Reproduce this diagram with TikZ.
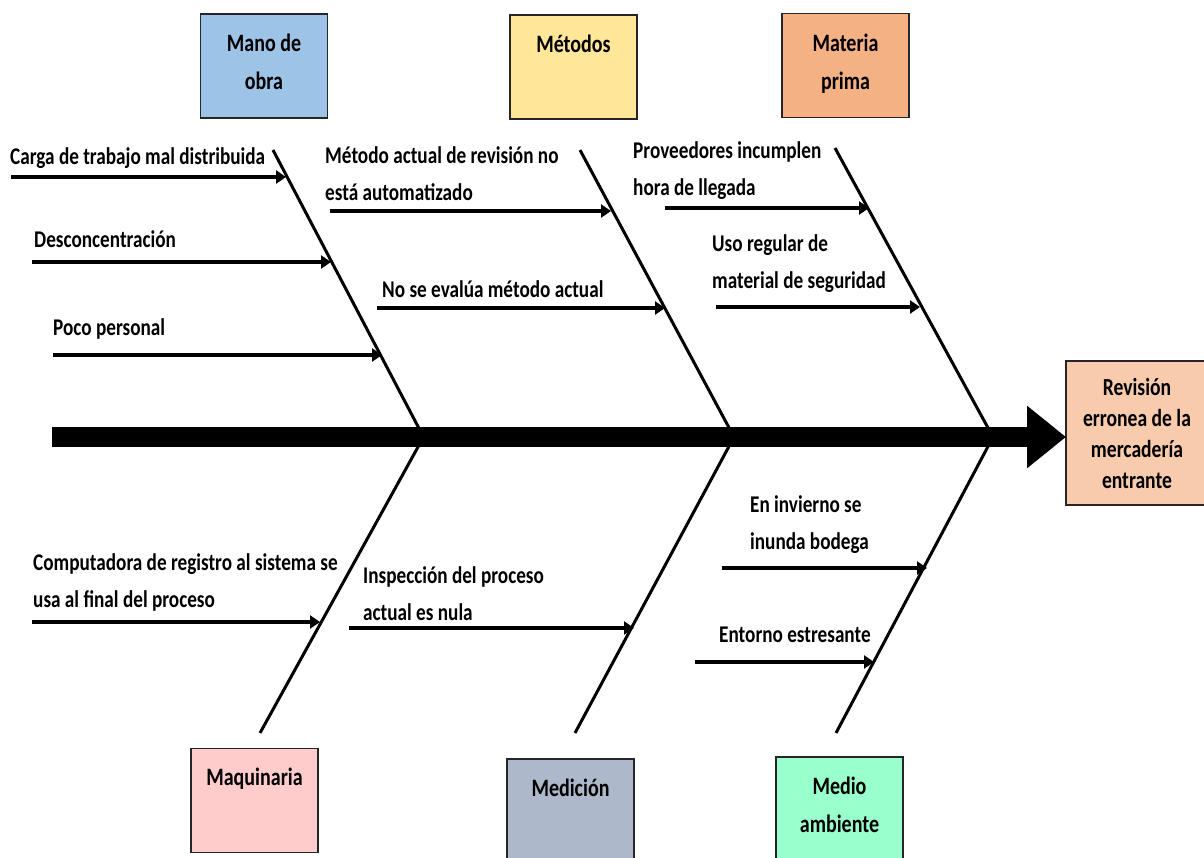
\documentclass[tikz,border=0pt]{standalone}
\usepackage{fontspec}
\setmainfont{Carlito}[FakeStretch=0.8]
\usetikzlibrary{arrows.meta,calc}

\definecolor{manoC}{HTML}{9DC3E6}
\definecolor{metodoC}{HTML}{FFE699}
\definecolor{materiaC}{HTML}{F4B183}
\definecolor{efectoC}{HTML}{F8CBAD}
\definecolor{maquinaC}{HTML}{FFCCCC}
\definecolor{medicionC}{HTML}{ADB9CA}
\definecolor{medioC}{HTML}{99FFCC}
\definecolor{borde}{HTML}{262626}

\newcommand\catfont{\bfseries\fontsize{25}{38}\selectfont}
\newcommand\causefont{\bfseries\fontsize{24}{37}\selectfont}
\newcommand\efectofont{\bfseries\fontsize{24.5}{31}\selectfont}

\tikzset{
  catbox/.style={draw=borde, line width=1.5pt, minimum width=127pt,
    minimum height=104pt, inner sep=0pt},
  cattext/.style={anchor=base, inner sep=0pt, align=center, font=\catfont},
  efectobox/.style={draw=borde, line width=1.5pt, fill=efectoC, minimum width=142pt,
    minimum height=144pt, inner sep=0pt, align=center, font=\efectofont},
  cause/.style={anchor=base west, inner sep=0pt, align=left, font=\causefont},
  bone/.style={line width=3pt},
  causearrow/.style={line width=4pt, -{Triangle[length=10pt,width=13pt]}},
  spine/.style={line width=20pt, -{Triangle[length=39pt,width=60pt]}},
}

\begin{document}
\begin{tikzpicture}[x=1pt,y=-1pt]
\clip (0,0) rectangle (1204,857);
\fill[white] (0,0) rectangle (1204,857);

% category boxes (the label baseline sits 38pt below the top edge per line)
\node[catbox, fill=manoC]     (mano)     at (264,66)     {};
\node[catbox, fill=metodoC]   (metodos)  at (573.5,67)   {};
\node[catbox, fill=materiaC]  (materia)  at (845.5,65.5) {};
\node[catbox, fill=maquinaC]  (maquina)  at (254.5,800.5){};
\node[catbox, fill=medicionC] (medicion) at (570.5,811)  {};
\node[catbox, fill=medioC]    (medio)    at (839.5,809)  {};

\node[cattext] (manoT)     at ($(mano.north)+(0,76)$)     {Mano de\\obra};
\node[cattext] (metodosT)  at ($(metodos.north)+(0,38)$)  {Métodos};
\node[cattext] (materiaT)  at ($(materia.north)+(0,77)$)  {Materia\\prima};
\node[cattext] (maquinaT)  at ($(maquina.north)+(0,38)$)  {Maquinaria};
\node[cattext] (medicionT) at ($(medicion.north)+(0,38)$) {Medición};
\node[cattext] (medioT)    at ($(medio.north)+(0,76)$)    {Medio\\ambiente};

\node[efectobox] (efecto) at (1137,433) {Revisión\\erronea de la\\mercadería\\entrante};

% bone end points
\coordinate (manoTop)  at (273,150);
\coordinate (manoJ)    at (423.5,437);
\coordinate (metTop)   at (580,150);
\coordinate (metJ)     at (734,437);
\coordinate (matTop)   at (835,148);
\coordinate (matJ)     at (993,437);
\coordinate (maqBot)   at (260,733);
\coordinate (medBot)   at (575,733);
\coordinate (ambBot)   at (836,733);
\coordinate (spineL)   at (52,437);
\coordinate (spineR)   at (1066,437);

% bones
\draw[bone] (manoTop) -- (manoJ) -- (maqBot);
\draw[bone] (metTop)  -- (metJ)  -- (medBot);
\draw[bone] (matTop)  -- (matJ)  -- (ambBot);

% spine
\draw[spine] (spineL) -- (spineR);

% cause arrows
\coordinate (a1s) at (11,177);   \coordinate (a1e) at (286,177);
\coordinate (a2s) at (32,262);   \coordinate (a2e) at (331,262);
\coordinate (a3s) at (53,355);   \coordinate (a3e) at (382,355);
\coordinate (b1s) at (330,211);  \coordinate (b1e) at (611,211);
\coordinate (b2s) at (377,308);  \coordinate (b2e) at (665,308);
\coordinate (c1s) at (665,208);  \coordinate (c1e) at (869,208);
\coordinate (c2s) at (716,307);  \coordinate (c2e) at (920,307);
\coordinate (d1s) at (32,622);   \coordinate (d1e) at (320,622);
\coordinate (e1s) at (349,628);  \coordinate (e1e) at (634,628);
\coordinate (f1s) at (722,568);  \coordinate (f1e) at (927,568);
\coordinate (f2s) at (695,662);  \coordinate (f2e) at (874,662);

\foreach \p in {a1,a2,a3,b1,b2,c1,c2,d1,e1,f1,f2}
  \draw[causearrow] (\p s) -- (\p e);

% cause labels (base = baseline of the last line)
\node[cause] (t1) at (10,164)  {Carga de trabajo mal distribuida};
\node[cause] (t2) at (34,247)  {Desconcentración};
\node[cause] (t3) at (53,335)  {Poco personal};
\node[cause] (t4) at (325,200) {Método actual de revisión no\\está automatizado};
\node[cause] (t5) at (382,297) {No se evalúa método actual};
\node[cause] (t6) at (633,195) {Proveedores incumplen\\hora de llegada};
\node[cause] (t7) at (712,288) {Uso regular de\\material de seguridad};
\node[cause] (t8) at (33,607)  {Computadora de registro al sistema se\\usa al final del proceso};
\node[cause] (t9) at (363,620) {Inspección del proceso\\actual es nula};
\node[cause] (t10) at (750,549) {En invierno se\\inunda bodega};
\node[cause] (t11) at (719,642) {Entorno estresante};
\end{tikzpicture}
\end{document}
